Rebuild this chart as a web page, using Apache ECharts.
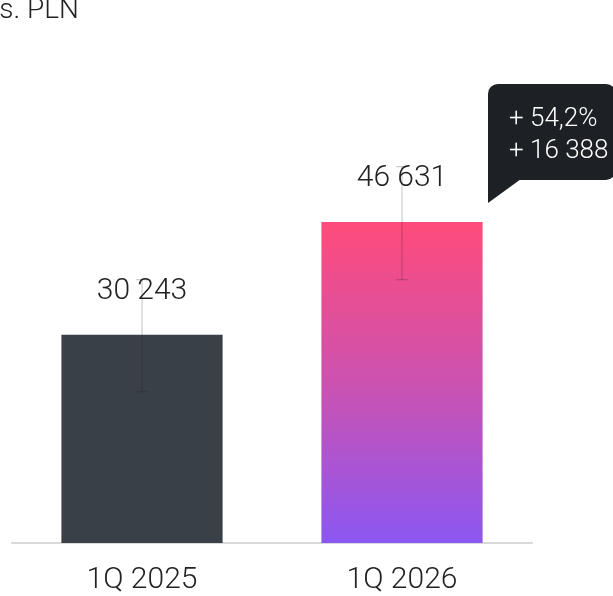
<!DOCTYPE html>
<html>
<head>
<meta charset="utf-8">
<script src="https://cdn.jsdelivr.net/npm/echarts@6/dist/echarts.min.js"></script>
<style>
  html, body { margin: 0; padding: 0; background: #fff; }
  #chart { width: 613px; height: 596px; }
</style>
</head>
<body>
<div id="chart"></div>
<script>
const categories = ["1Q 2025", "1Q 2026"];
const values = [30243, 46631];
// error whiskers
const errLow = [21950, 38230];
const errHigh = [38230, 54650];
const unitLabel = "tys. PLN";

const FONT = "Roboto, 'Liberation Sans', sans-serif";
const errColor = "rgba(30,30,30,0.28)";

const fmt = (v) => String(v).replace(/\B(?=(\d{3})+(?!\d))/g, " ");
const diff = values[1] - values[0];
const pct = ((diff / values[0]) * 100).toFixed(1).replace(".", ",");

const chart = echarts.init(document.getElementById("chart"));

const barColors = [
  "#3a4048",
  new echarts.graphic.LinearGradient(0, 0, 0, 1, [
    { offset: 0, color: "#ff4b7b" },
    { offset: 0.5, color: "#cc52b0" },
    { offset: 1, color: "#8b57f2" },
  ]),
];

const option = {
  animation: false,
  grid: { left: 12, right: 81, top: 61, bottom: 53 },
  xAxis: {
    type: "category",
    data: categories,
    axisTick: { show: false },
    axisLine: { lineStyle: { color: "#d9d9d9", width: 2 } },
    axisLabel: { color: "#222", fontSize: 30, fontFamily: FONT, fontWeight: 300, margin: 22 },
  },
  yAxis: {
    type: "value",
    min: 0,
    max: 70000,
    show: false,
    splitLine: { show: false },
  },
  series: [
    {
      type: "bar",
      barWidth: "62%",
      z: 2,
      data: values.map((v, i) => ({ value: v, itemStyle: { color: barColors[i] } })),
      label: {
        show: true,
        position: "top",
        distance: 28,
        color: "#222",
        fontSize: 30,
        fontFamily: FONT,
        fontWeight: 300,
        formatter: (p) => fmt(p.value),
      },
    },
    {
      type: "custom",
      z: 3,
      silent: true,
      data: categories.map((c, i) => [i, errLow[i], errHigh[i]]),
      renderItem: (params, api) => {
        const x = api.value(0);
        const lo = api.coord([x, api.value(1)]);
        const hi = api.coord([x, api.value(2)]);
        const w = 6;
        const style = { stroke: errColor, lineWidth: 1 };
        return {
          type: "group",
          children: [
            { type: "line", shape: { x1: lo[0], y1: lo[1], x2: hi[0], y2: hi[1] }, style },
            { type: "line", shape: { x1: lo[0] - w, y1: lo[1], x2: lo[0] + w, y2: lo[1] }, style },
            { type: "line", shape: { x1: hi[0] - w, y1: hi[1], x2: hi[0] + w, y2: hi[1] }, style },
          ],
        };
      },
    },
  ],
};

chart.setOption(option);

// callout anchored to the right side of the second bar
const anchor = chart.convertToPixel({ xAxisIndex: 0, yAxisIndex: 0 }, [1, values[1]]);
const bx = anchor[0] + 86;
const by = anchor[1] - 138;

chart.setOption({
  graphic: [
    {
      type: "text",
      left: -23,
      top: -3,
      style: { text: unitLabel, fill: "#222", fontSize: 28, fontFamily: FONT, fontWeight: 300 },
    },
    {
      type: "group",
      x: bx,
      y: by,
      children: [
        {
          type: "rect",
          shape: { x: 0, y: 0, width: 128, height: 96, r: [10, 10, 10, 0] },
          style: { fill: "#1d2024" },
        },
        {
          type: "polygon",
          shape: { points: [[0, 95], [33, 95], [0, 119]] },
          style: { fill: "#1d2024" },
        },
        {
          type: "text",
          x: 21,
          y: 52,
          style: {
            text: "+ " + pct + "%\n+ " + fmt(diff),
            fill: "#fff",
            fontSize: 26,
            lineHeight: 32,
            fontFamily: FONT,
            fontWeight: 300,
            verticalAlign: "middle",
          },
        },
      ],
    },
  ],
});
</script>
</body>
</html>
